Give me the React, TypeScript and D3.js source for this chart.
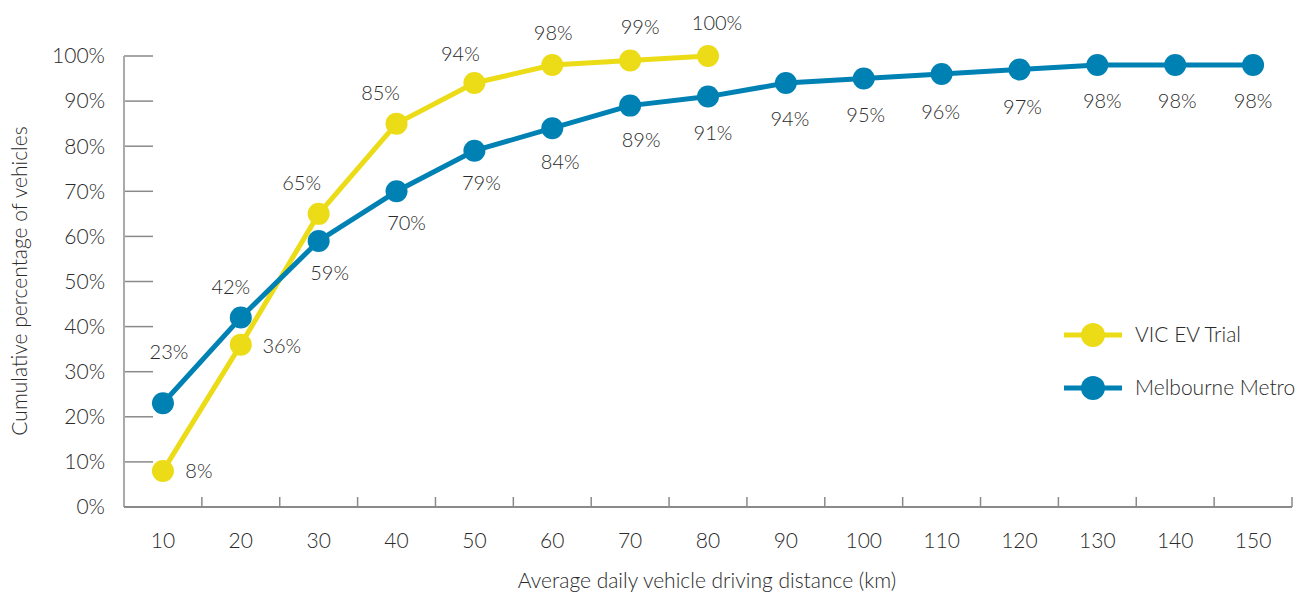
import React from "react";
import * as d3 from "d3";

const categories = ["10","20","30","40","50","60","70","80","90","100","110","120","130","140","150"];
const vicValues = [8, 36, 65, 85, 94, 98, 99, 100];
const metroValues = [23, 42, 59, 70, 79, 84, 89, 91, 94, 95, 96, 97, 98, 98, 98];
const yTicks = [0, 10, 20, 30, 40, 50, 60, 70, 80, 90, 100];
const seriesNames = ["VIC EV Trial", "Melbourne Metro"];

// label placement (layout only)
const vicLabelOffsets: [number, number][] = [
  [36, 0], [41, 1], [-17, -31], [-16, -31], [-14, -29], [1, -32], [10, -34], [9, -33],
];
const metroLabelOffsets: [number, number][] = [
  [6, -51], [-10, -31], [11, 32], [10, 32], [7, 32], [8, 34], [11, 34], [5, 36],
  [4, 36], [2, 36], [-1, 38], [3, 37], [5, 36], [2, 36], [0, 36],
];

const W = 1297, H = 594;
const left = 124, right = 1292, top = 56, bottom = 507;
const YELLOW = "#EBDC17";
const BLUE = "#0081B4";
const TEXT = "#2a2a2a";
const FONT = "Lato, 'Open Sans', sans-serif";
const FS = 21;
const LFS = 20;

export default function App() {
  const x = d3.scaleBand<string>().domain(categories).range([left, right]).padding(0);
  const y = d3.scaleLinear().domain([0, 100]).range([bottom, top]);
  const bw = x.bandwidth();
  const cx = (i: number) => (x(categories[i]) as number) + bw / 2;
  const line = d3.line<number>().x((_, i) => cx(i)).y((d) => y(d));

  const series = [
    { name: seriesNames[0], values: vicValues, color: YELLOW, offs: vicLabelOffsets },
    { name: seriesNames[1], values: metroValues, color: BLUE, offs: metroLabelOffsets },
  ];

  return (
    <svg width={W} height={H} style={{ position: "absolute", left: 0, top: 0, background: "#fff" }}
      fontFamily={FONT}>
      {/* y ticks */}
      {yTicks.filter((t) => t > 0).map((t) => (
        <line key={"yt" + t} x1={left} x2={left + 29} y1={y(t)} y2={y(t)} stroke="#8a8a8a" strokeWidth={1.5} />
      ))}
      {yTicks.map((t) => (
        <text key={"yl" + t} x={105} y={y(t)} dy="0.35em" textAnchor="end" fontSize={FS} fontWeight={300} fill={TEXT}>
          {t + "%"}
        </text>
      ))}
      {/* x ticks */}
      {categories.map((c) => (
        <line key={"xt" + c} x1={(x(c) as number) + bw} x2={(x(c) as number) + bw} y1={bottom - 10} y2={bottom}
          stroke="#8a8a8a" strokeWidth={1.5} />
      ))}
      {categories.map((c, i) => (
        <text key={"xl" + c} x={cx(i)} y={541} dy="0.35em" textAnchor="middle" fontSize={FS} fontWeight={300} fill={TEXT}>
          {c}
        </text>
      ))}
      {/* axes */}
      <line x1={left} x2={left} y1={top} y2={bottom} stroke="#aaaaaa" strokeWidth={2} />
      <line x1={left} x2={right} y1={bottom} y2={bottom} stroke="#8a8a8a" strokeWidth={2} />
      {/* titles */}
      <text x={707} y={581} dy="0.35em" textAnchor="middle" fontSize={FS} fontWeight={300} fill={TEXT}>
        Average daily vehicle driving distance (km)
      </text>
      <text transform={`translate(20,281) rotate(-90)`} dy="0.35em" textAnchor="middle" fontSize={FS} fontWeight={300} fill={TEXT}>
        Cumulative percentage of vehicles
      </text>
      {/* series */}
      {series.map((s) => (
        <g key={s.name}>
          <path d={line(s.values) || ""} fill="none" stroke={s.color} strokeWidth={5} strokeLinejoin="round" />
          {s.values.map((v, i) => (
            <circle key={i} cx={cx(i)} cy={y(v)} r={11} fill={s.color} />
          ))}
        </g>
      ))}
      {series.map((s) => (
        <g key={s.name + "lbl"}>
          {s.values.map((v, i) => (
            <text key={i} x={cx(i) + s.offs[i][0]} y={y(v) + s.offs[i][1]} dy="0.35em" textAnchor="middle"
              fontSize={LFS} fontWeight={300} fill={TEXT}>
              {v + "%"}
            </text>
          ))}
        </g>
      ))}
      {/* legend */}
      {series.map((s, k) => (
        <g key={s.name + "leg"} transform={`translate(0,${335 + k * 53})`}>
          <line x1={1064} x2={1122} y1={0} y2={0} stroke={s.color} strokeWidth={5} />
          <circle cx={1093} cy={0} r={12} fill={s.color} />
          <text x={1135} y={0} dy="0.35em" fontSize={FS} fontWeight={300} fill={TEXT}>{s.name}</text>
        </g>
      ))}
    </svg>
  );
}
